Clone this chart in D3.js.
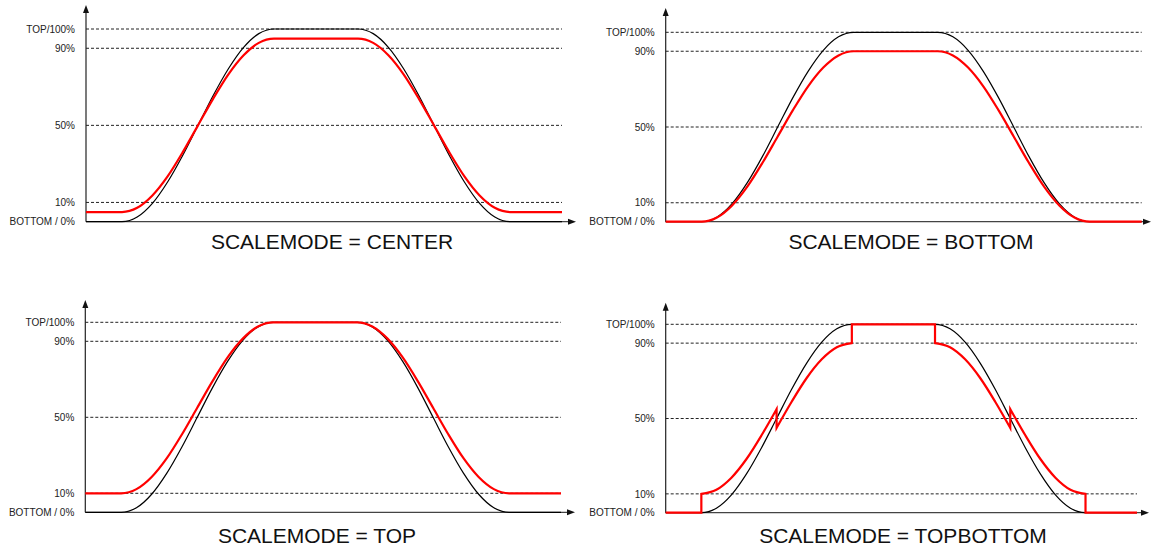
<!DOCTYPE html>
<html>
<head>
<meta charset="utf-8">
<script src="https://cdn.jsdelivr.net/npm/d3@7"></script>
<style>
  body { margin: 0; background: #fff; }
  svg { display: block; font-family: "Liberation Sans", Arial, sans-serif; }
</style>
</head>
<body>
<svg id="chart" width="1151" height="548"></svg>
<script>
// --- data (level in %) ---
const timeX = [0, 9, 12.8, 16.6, 20.4, 24.2, 28, 31.8, 35.6, 39.4, 43.2, 47,
               68, 71.8, 75.6, 79.4, 83.2, 87, 90.8, 94.6, 98.4, 102.2, 106, 119];
const referenceLevel = [0, 0, 2.4, 9.5, 20.6, 34.5, 50, 65.5, 79.4, 90.5, 97.6, 100,
                        100, 97.6, 90.5, 79.4, 65.5, 50, 34.5, 20.6, 9.5, 2.4, 0, 0];
const centerLevel = [5, 5, 7.2, 13.6, 23.5, 36.1, 50, 63.9, 76.5, 86.4, 92.8, 95,
                     95, 92.8, 86.4, 76.5, 63.9, 50, 36.1, 23.5, 13.6, 7.2, 5, 5];
const bottomLevel = [0, 0, 2.2, 8.6, 18.5, 31.1, 45, 58.9, 71.5, 81.4, 87.8, 90,
                     90, 87.8, 81.4, 71.5, 58.9, 45, 31.1, 18.5, 8.6, 2.2, 0, 0];
const topLevel = [10, 10, 12.2, 18.6, 28.5, 41.1, 55, 68.9, 81.5, 91.4, 97.8, 100,
                  100, 97.8, 91.4, 81.5, 68.9, 55, 41.1, 28.5, 18.6, 12.2, 10, 10];
// repeated x = a vertical jump
const topBottomX = [0, 9, 9, 12.8, 16.6, 20.4, 24.2, 28, 28, 31.8, 35.6, 39.4, 43.2, 47, 47,
                    68, 68, 71.8, 75.6, 79.4, 83.2, 87, 87, 90.8, 94.6, 98.4, 102.2, 106, 106, 119];
const topBottomLevel = [0, 0, 10, 12.2, 18.6, 28.5, 41.1, 55, 45, 58.9, 71.5, 81.4, 87.8, 90, 100,
                        100, 90, 87.8, 81.4, 71.5, 58.9, 45, 55, 41.1, 28.5, 18.6, 12.2, 10, 0, 0];

const tickValues = [0, 10, 50, 90, 100];
const tickLabels = ["BOTTOM / 0%", "10%", "50%", "90%", "TOP/100%"];
const modeNames = ["CENTER", "BOTTOM", "TOP", "TOPBOTTOM"];

// layout of the four panels
const panels = [
  {x0: 86,    x1: 562,    xArrow: 576,  y0: 221.7, y100: 29,    yArrow: 5,     labelX: 332, labelY: 249, redX: timeX,      red: centerLevel},
  {x0: 665.7, x1: 1141.7, xArrow: 1151, y0: 221.7, y100: 32.3,  yArrow: 8,     labelX: 911, labelY: 249, redX: timeX,      red: bottomLevel},
  {x0: 85.3,  x1: 561,    xArrow: 575,  y0: 512.3, y100: 322.3, yArrow: 300,   labelX: 317, labelY: 543, redX: timeX,      red: topLevel},
  {x0: 665.7, x1: 1137,   xArrow: 1149, y0: 512.7, y100: 324.3, yArrow: 302.7, labelX: 903, labelY: 543, redX: topBottomX, red: topBottomLevel}
];

const svg = d3.select("#chart");

// one path through several smooth pieces, joined by straight jumps
function levelPath(xs, ys, x, y) {
  const line = d3.line().x(d => x(d[0])).y(d => y(d[1])).curve(d3.curveMonotoneX);
  const segs = [];
  xs.forEach((v, i) => {
    if (i === 0 || v === xs[i - 1]) segs.push([]);
    segs[segs.length - 1].push([v, ys[i]]);
  });
  return segs.map((s, i) => i ? line(s).replace(/^M/, "L") : line(s)).join("");
}

panels.forEach((p, k) => {
  const x = d3.scaleLinear().domain([0, d3.max(timeX)]).range([p.x0, p.x1]);
  const y = d3.scaleLinear().domain([0, 100]).range([p.y0, p.y100]);
  const g = svg.append("g");

  // dashed guide lines
  g.selectAll("line.grid")
    .data(tickValues.filter(v => v > 0))
    .join("line")
    .attr("x1", p.x0).attr("x2", p.x1)
    .attr("y1", d => y(d)).attr("y2", d => y(d))
    .attr("stroke", "#222").attr("stroke-width", 1)
    .attr("stroke-dasharray", "3,2");

  // tick labels
  g.append("g")
    .attr("transform", `translate(${p.x0},0)`)
    .call(d3.axisLeft(y).tickValues(tickValues).tickSize(0).tickPadding(11)
      .tickFormat((d, i) => tickLabels[i]))
    .call(a => a.select(".domain").remove())
    .call(a => a.selectAll("text").attr("font-size", 10).attr("fill", "#222")
      .attr("font-family", '"Liberation Sans", Arial, sans-serif'));

  // axes with arrows
  g.append("line")
    .attr("x1", p.x0).attr("x2", p.x0)
    .attr("y1", p.y0).attr("y2", p.yArrow + 4)
    .attr("stroke", "#222").attr("stroke-width", 1.2);
  g.append("path")
    .attr("d", `M${p.x0},${p.yArrow}L${p.x0 - 3},${p.yArrow + 8}L${p.x0 + 3},${p.yArrow + 8}Z`)
    .attr("fill", "#111");
  g.append("line")
    .attr("x1", p.x0).attr("x2", p.xArrow - 4)
    .attr("y1", p.y0).attr("y2", p.y0)
    .attr("stroke", "#444").attr("stroke-width", 1.3);
  g.append("path")
    .attr("d", `M${p.xArrow},${p.y0}L${p.xArrow - 8},${p.y0 - 3}L${p.xArrow - 8},${p.y0 + 3}Z`)
    .attr("fill", "#111");

  // reference curve (black) and scaled curve (red)
  g.append("path")
    .attr("d", levelPath(timeX, referenceLevel, x, y))
    .attr("fill", "none").attr("stroke", "#000").attr("stroke-width", 1.2);
  g.append("path")
    .attr("d", levelPath(p.redX, p.red, x, y))
    .attr("fill", "none").attr("stroke", "#f00").attr("stroke-width", 2.2)
    .attr("stroke-linejoin", "miter");

  g.append("text")
    .attr("x", p.labelX).attr("y", p.labelY)
    .attr("text-anchor", "middle")
    .attr("font-size", 21).attr("fill", "#111")
    .text(`SCALEMODE = ${modeNames[k]}`);
});
</script>
</body>
</html>
